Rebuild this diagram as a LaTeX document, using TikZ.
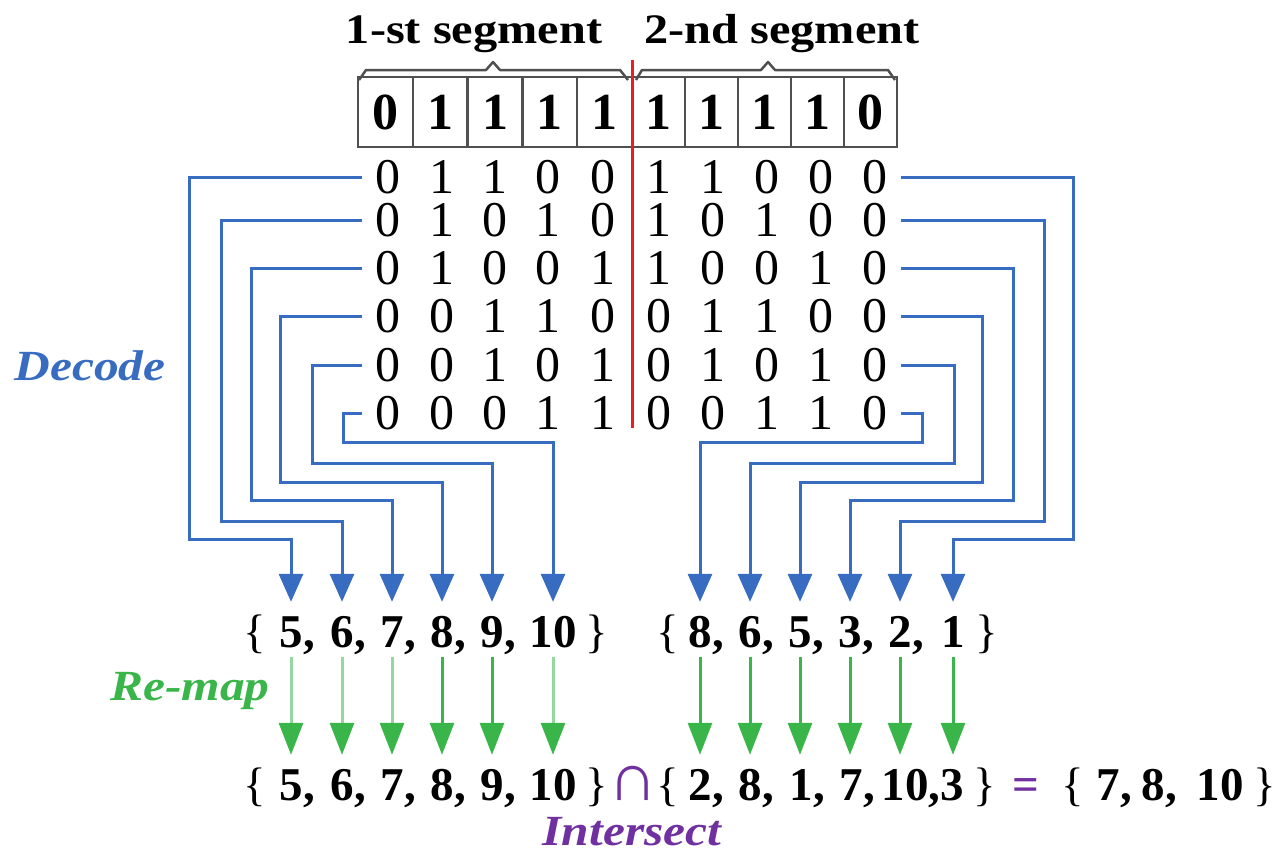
\documentclass[tikz,border=0pt]{standalone}
\usepackage{fontspec}
\setmainfont{Liberation Serif}
\newfontfamily\widefont[FakeStretch=1.15]{Liberation Serif}
\usetikzlibrary{arrows.meta}
\definecolor{decblue}{RGB}{55,108,192}
\definecolor{mapgreen}{RGB}{57,181,74}
\definecolor{mapgreenlight}{RGB}{150,214,160}
\definecolor{setpurple}{RGB}{112,48,160}
\definecolor{splitred}{RGB}{237,28,36}
\definecolor{boxgray}{RGB}{80,80,80}

\begin{document}
\begin{tikzpicture}[x=1pt,y=-1pt,
  bit/.style={font=\fontsize{50}{50}\selectfont, inner sep=0pt, minimum width=24pt,
    text height=31pt, text depth=0pt},
  cell/.style={draw=boxgray, line width=2.5pt, minimum height=70pt, inner sep=0pt,
    font=\bfseries\fontsize{52}{52}\selectfont},
  num/.style={font=\bfseries\fontsize{47}{47}\selectfont, anchor=base, inner xsep=0pt,
    inner ysep=10pt, text height=35pt, text depth=0pt},
  comma/.style={font=\bfseries\fontsize{47}{47}\selectfont, anchor=base west, inner sep=0pt},
  brc/.style={font=\fontsize{47}{47}\selectfont, anchor=base, inner sep=0pt},
  title/.style={font=\widefont\bfseries\fontsize{42}{42}\selectfont, anchor=base, inner sep=0pt},
  tag/.style={font=\widefont\bfseries\itshape\fontsize{43}{43}\selectfont, anchor=base, inner sep=0pt},
  decode/.style={draw=decblue, line width=3pt, -{Triangle[width=24pt,length=28pt]}},
  remap/.style={draw=mapgreen, line width=3pt, -{Triangle[width=24pt,length=32pt,color=mapgreen]}},
  remaplight/.style={remap, draw=mapgreenlight},
  segbrace/.style={draw=boxgray, line width=2.5pt, line join=round},
]
\useasboundingbox (0,0) rectangle (1278,854);

% segment titles and their braces
\node[title] (seg1) at (474,43) {1-st segment};
\node[title] (seg2) at (782,43) {2-nd segment};
\draw[segbrace] (359,80) -- (366,70) -- (486,70) -- (493,62) -- (500,70) -- (620,70) -- (628,80);
\draw[segbrace] (636,80) -- (642,70) -- (761,70) -- (768,62) -- (775,70) -- (888,70) -- (895,80);

% the ten-bit string
\foreach \b/\x/\w [count=\c] in {0/385.4/54.8, 1/440.2/54.8, 1/495.0/54.8, 1/549.8/54.8, 1/604.6/54.8,
                                 1/658.5/53, 1/711.5/53, 1/764.5/53, 1/817.5/53, 0/870.5/53}
  \node[cell, minimum width=\w pt] (box\c) at (\x,112) {\b};

% candidate bit patterns (node boxes are kept a little shorter than the glyphs)
\foreach \b [count=\c] in {0,1,1,0,0,1,1,0,0,0} {
  \pgfmathsetmacro\cx{{388,442,495,548,603,659,713,767,821,875}[\c-1]}
  \node[bit] (m1-\c) at (\cx,177.5) {\b};}
\foreach \b [count=\c] in {0,1,0,1,0,1,0,1,0,0} {
  \pgfmathsetmacro\cx{{388,442,495,548,603,659,713,767,821,875}[\c-1]}
  \node[bit] (m2-\c) at (\cx,220.5) {\b};}
\foreach \b [count=\c] in {0,1,0,0,1,1,0,0,1,0} {
  \pgfmathsetmacro\cx{{388,442,495,548,603,659,713,767,821,875}[\c-1]}
  \node[bit] (m3-\c) at (\cx,268.5) {\b};}
\foreach \b [count=\c] in {0,0,1,1,0,0,1,1,0,0} {
  \pgfmathsetmacro\cx{{388,442,495,548,603,659,713,767,821,875}[\c-1]}
  \node[bit] (m4-\c) at (\cx,316.5) {\b};}
\foreach \b [count=\c] in {0,0,1,0,1,0,1,0,1,0} {
  \pgfmathsetmacro\cx{{388,442,495,548,603,659,713,767,821,875}[\c-1]}
  \node[bit] (m5-\c) at (\cx,365.5) {\b};}
\foreach \b [count=\c] in {0,0,0,1,1,0,0,1,1,0} {
  \pgfmathsetmacro\cx{{388,442,495,548,603,659,713,767,821,875}[\c-1]}
  \node[bit] (m6-\c) at (\cx,413.5) {\b};}

% split between the two segments
\coordinate (cutTop) at (632,60);
\coordinate (cutBot) at (632,428);
\draw[splitred, line width=3pt] (cutTop) -- (cutBot);

% decoded sets
\node[brc] (Al) at (255,647) {\{};
\foreach \v/\x [count=\i] in {5/291,6/342,7/392,8/442,9/492,10/553} {
  \node[num] (A\i) at (\x,647) {\v};
  \ifnum\i<6 \node[comma] (Ac\i) at (A\i.base east) {,};\fi}
\node[brc] (Ar) at (597,647) {\}};

\node[brc] (Bl) at (668,647) {\{};
\foreach \v/\x [count=\i] in {8/700,6/750,5/800,3/850,2/900,1/953} {
  \node[num] (B\i) at (\x,647) {\v};
  \ifnum\i<6 \node[comma] (Bc\i) at (B\i.base east) {,};\fi}
\node[brc] (Br) at (987,647) {\}};

% re-mapped sets and their intersection
\node[brc] (Cl) at (255,800) {\{};
\foreach \v/\x [count=\i] in {5/291,6/342,7/392,8/442,9/492,10/553} {
  \node[num] (C\i) at (\x,800) {\v};
  \ifnum\i<6 \node[comma] (Cc\i) at (C\i.base east) {,};\fi}
\node[brc] (Cr) at (597,800) {\}};

\node[brc, text=setpurple, font=\fontsize{68}{68}\selectfont] (capsym) at (633,800) {∩};

\node[brc] (Dl) at (668,800) {\{};
\foreach \v/\x [count=\i] in {2/700,8/750,1/801,7/851,10/905,3/952} {
  \node[num] (D\i) at (\x,800) {\v};
  \ifnum\i<6 \node[comma] (Dc\i) at (D\i.base east) {,};\fi}
\node[brc] (Dr) at (985,800) {\}};

\node[num, text=setpurple] (eqsym) at (1026,800) {=};

\node[brc] (El) at (1073,800) {\{};
\foreach \v/\x [count=\i] in {7/1108,8/1153,10/1220} {
  \node[num] (E\i) at (\x,800) {\v};
  \ifnum\i<3 \node[comma] (Ec\i) at (E\i.base east) {,};\fi}
\node[brc] (Er) at (1265,800) {\}};

% step labels
\node[tag, text=decblue] (decodeLbl) at (90,380) {Decode};
\node[tag, text=mapgreen] (remapLbl) at (190,700) {Re-map};
\node[tag, text=setpurple] (isectLbl) at (632,845) {Intersect};

% decoding connectors, first segment
\draw[decode] ([xshift=-13pt]m1-1.west) -| (189,539) -| (A1.north);
\draw[decode] ([xshift=-13pt]m2-1.west) -| (221,521) -| (A2.north);
\draw[decode] ([xshift=-13pt]m3-1.west) -| (251,500) -| (A3.north);
\draw[decode] ([xshift=-13pt]m4-1.west) -| (280,482) -| (A4.north);
\draw[decode] ([xshift=-13pt]m5-1.west) -| (312,463) -| (A5.north);
\draw[decode] ([xshift=-13pt]m6-1.west) -| (343,442) -| (A6.north);

% decoding connectors, second segment
\draw[decode] ([xshift=13pt]m1-10.east) -| (1073,539) -| (B6.north);
\draw[decode] ([xshift=13pt]m2-10.east) -| (1044,521) -| (B5.north);
\draw[decode] ([xshift=13pt]m3-10.east) -| (1013,500) -| (B4.north);
\draw[decode] ([xshift=13pt]m4-10.east) -| (982,482) -| (B3.north);
\draw[decode] ([xshift=13pt]m5-10.east) -| (954,463) -| (B2.north);
\draw[decode] ([xshift=13pt]m6-10.east) -| (922,442) -| (B1.north);

% re-mapping arrows
\draw[remaplight] (A1.south) -- (C1.north);
\draw[remaplight] (A2.south) -- (C2.north);
\draw[remaplight] (A3.south) -- (C3.north);
\draw[remap] (A4.south) -- (C4.north);
\draw[remap] (A5.south) -- (C5.north);
\draw[remaplight] (A6.south) -- (C6.north);
\foreach \i in {1,...,6}
  \draw[remap] (B\i.south) -- (B\i.south |- D\i.north);
\end{tikzpicture}
\end{document}
